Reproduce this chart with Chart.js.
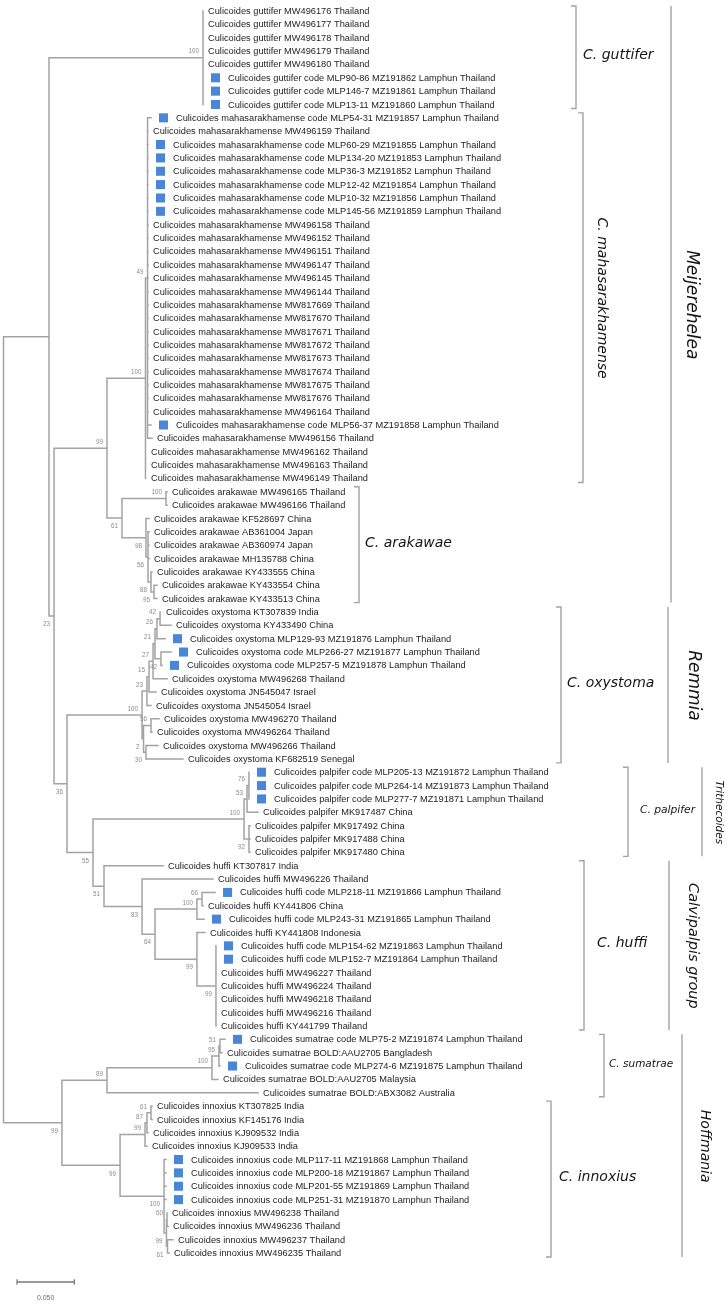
<!DOCTYPE html>
<html>
<head>
<meta charset="utf-8">
<script src="https://cdn.jsdelivr.net/npm/chart.js@4.4.1/dist/chart.umd.min.js"></script>
<style>
  html, body { margin: 0; padding: 0; background: #fff; }
  canvas { display: block; }
</style>
</head>
<body>
<canvas id="tree" width="727" height="1304"></canvas>
<script>
// leaf labels, top to bottom
const taxa = [
  'Culicoides guttifer MW496176 Thailand',
  'Culicoides guttifer MW496177 Thailand',
  'Culicoides guttifer MW496178 Thailand',
  'Culicoides guttifer MW496179 Thailand',
  'Culicoides guttifer MW496180 Thailand',
  'Culicoides guttifer code MLP90-86 MZ191862 Lamphun Thailand',
  'Culicoides guttifer code MLP146-7 MZ191861 Lamphun Thailand',
  'Culicoides guttifer code MLP13-11 MZ191860 Lamphun Thailand',
  'Culicoides mahasarakhamense code MLP54-31 MZ191857 Lamphun Thailand',
  'Culicoides mahasarakhamense MW496159 Thailand',
  'Culicoides mahasarakhamense code MLP60-29 MZ191855 Lamphun Thailand',
  'Culicoides mahasarakhamense code MLP134-20 MZ191853 Lamphun Thailand',
  'Culicoides mahasarakhamense code MLP36-3 MZ191852 Lamphun Thailand',
  'Culicoides mahasarakhamense code MLP12-42 MZ191854 Lamphun Thailand',
  'Culicoides mahasarakhamense code MLP10-32 MZ191856 Lamphun Thailand',
  'Culicoides mahasarakhamense code MLP145-56 MZ191859 Lamphun Thailand',
  'Culicoides mahasarakhamense MW496158 Thailand',
  'Culicoides mahasarakhamense MW496152 Thailand',
  'Culicoides mahasarakhamense MW496151 Thailand',
  'Culicoides mahasarakhamense MW496147 Thailand',
  'Culicoides mahasarakhamense MW496145 Thailand',
  'Culicoides mahasarakhamense MW496144 Thailand',
  'Culicoides mahasarakhamense MW817669 Thailand',
  'Culicoides mahasarakhamense MW817670 Thailand',
  'Culicoides mahasarakhamense MW817671 Thailand',
  'Culicoides mahasarakhamense MW817672 Thailand',
  'Culicoides mahasarakhamense MW817673 Thailand',
  'Culicoides mahasarakhamense MW817674 Thailand',
  'Culicoides mahasarakhamense MW817675 Thailand',
  'Culicoides mahasarakhamense MW817676 Thailand',
  'Culicoides mahasarakhamense MW496164 Thailand',
  'Culicoides mahasarakhamense code MLP56-37 MZ191858 Lamphun Thailand',
  'Culicoides mahasarakhamense MW496156 Thailand',
  'Culicoides mahasarakhamense MW496162 Thailand',
  'Culicoides mahasarakhamense MW496163 Thailand',
  'Culicoides mahasarakhamense MW496149 Thailand',
  'Culicoides arakawae MW496165 Thailand',
  'Culicoides arakawae MW496166 Thailand',
  'Culicoides arakawae KF528697 China',
  'Culicoides arakawae AB361004 Japan',
  'Culicoides arakawae AB360974 Japan',
  'Culicoides arakawae MH135788 China',
  'Culicoides arakawae KY433555 China',
  'Culicoides arakawae KY433554 China',
  'Culicoides arakawae KY433513 China',
  'Culicoides oxystoma KT307839 India',
  'Culicoides oxystoma KY433490 China',
  'Culicoides oxystoma MLP129-93 MZ191876 Lamphun Thailand',
  'Culicoides oxystoma code MLP266-27 MZ191877 Lamphun Thailand',
  'Culicoides oxystoma code MLP257-5 MZ191878 Lamphun Thailand',
  'Culicoides oxystoma MW496268 Thailand',
  'Culicoides oxystoma JN545047 Israel',
  'Culicoides oxystoma JN545054 Israel',
  'Culicoides oxystoma MW496270 Thailand',
  'Culicoides oxystoma MW496264 Thailand',
  'Culicoides oxystoma MW496266 Thailand',
  'Culicoides oxystoma KF682519 Senegal',
  'Culicoides palpifer code MLP205-13 MZ191872 Lamphun Thailand',
  'Culicoides palpifer code MLP264-14 MZ191873 Lamphun Thailand',
  'Culicoides palpifer code MLP277-7 MZ191871 Lamphun Thailand',
  'Culicoides palpifer MK917487 China',
  'Culicoides palpifer MK917492 China',
  'Culicoides palpifer MK917488 China',
  'Culicoides palpifer MK917480 China',
  'Culicoides huffi KT307817 India',
  'Culicoides huffi MW496226 Thailand',
  'Culicoides huffi code MLP218-11 MZ191866 Lamphun Thailand',
  'Culicoides huffi KY441806 China',
  'Culicoides huffi code MLP243-31 MZ191865 Lamphun Thailand',
  'Culicoides huffi KY441808 Indonesia',
  'Culicoides huffi code MLP154-62 MZ191863 Lamphun Thailand',
  'Culicoides huffi code MLP152-7 MZ191864 Lamphun Thailand',
  'Culicoides huffi MW496227 Thailand',
  'Culicoides huffi MW496224 Thailand',
  'Culicoides huffi MW496218 Thailand',
  'Culicoides huffi MW496216 Thailand',
  'Culicoides huffi KY441799 Thailand',
  'Culicoides sumatrae code MLP75-2 MZ191874 Lamphun Thailand',
  'Culicoides sumatrae BOLD:AAU2705 Bangladesh',
  'Culicoides sumatrae code MLP274-6 MZ191875 Lamphun Thailand',
  'Culicoides sumatrae BOLD:AAU2705 Malaysia',
  'Culicoides sumatrae BOLD:ABX3082 Australia',
  'Culicoides innoxius KT307825 India',
  'Culicoides innoxius KF145176 India',
  'Culicoides innoxius KJ909532 India',
  'Culicoides innoxius KJ909533 India',
  'Culicoides innoxius code MLP117-11 MZ191868 Lamphun Thailand',
  'Culicoides innoxius code MLP200-18 MZ191867 Lamphun Thailand',
  'Culicoides innoxius code MLP201-55 MZ191869 Lamphun Thailand',
  'Culicoides innoxius code MLP251-31 MZ191870 Lamphun Thailand',
  'Culicoides innoxius MW496238 Thailand',
  'Culicoides innoxius MW496236 Thailand',
  'Culicoides innoxius MW496237 Thailand',
  'Culicoides innoxius MW496235 Thailand'
];

// distance from root to each tip (substitutions per site), same order as taxa
const tipDepth = [
  0.1741, 0.1741, 0.1741, 0.1741, 0.1741, 0.1741, 0.1741, 0.1741,
  0.1287, 0.1261, 0.1261, 0.1261, 0.1261, 0.1261, 0.1261, 0.1261,
  0.1261, 0.1261, 0.1261, 0.1261, 0.1261, 0.1261, 0.1261, 0.1261,
  0.1261, 0.1261, 0.1261, 0.1261, 0.1261, 0.1261, 0.1261, 0.1287,
  0.1296, 0.1243, 0.1243, 0.1243,
  0.1427, 0.1427, 0.1270, 0.1270, 0.1270, 0.1270, 0.1296, 0.1339, 0.1339,
  0.1374, 0.1462, 0.1409, 0.1462, 0.1383, 0.1427, 0.1331, 0.1287,
  0.1357, 0.1296, 0.1348, 0.1566,
  0.2142, 0.2142, 0.2142, 0.2221, 0.2151, 0.2151, 0.2151,
  0.1392, 0.1828, 0.1846, 0.1741, 0.1750, 0.1758, 0.1854, 0.1854,
  0.1854, 0.1854, 0.1854, 0.1854, 0.1854,
  0.1933, 0.1907, 0.1889, 0.1872, 0.2221,
  0.1296, 0.1296, 0.1261, 0.1252, 0.1418, 0.1418, 0.1418, 0.1418,
  0.1427, 0.1436, 0.1479, 0.1445
];

// sequences from this study (blue squares)
const newSamples = [5, 6, 7, 8, 10, 11, 12, 13, 14, 15, 31, 47, 48, 49, 57, 58, 59,
  66, 68, 70, 71, 77, 79, 86, 87, 88, 89];

// internal nodes: id, depth from root, bootstrap, children (leaf index or node id)
const nodes = [
  ['root', 0.0000, '', ['A', 'H']],
  ['A', 0.0397, '', ['gut', 'X']],
  ['gut', 0.1741, '100', [0, 1, 2, 3, 4, 5, 6, 7]],
  ['X', 0.0441, '23', ['M', 'n36']],
  ['M', 0.0903, '99', ['mah', 'ara']],
  ['mah', 0.1239, '100', ['m49', 33, 34, 35]],
  ['m49', 0.1257, '49', [8, 9, 10, 11, 12, 13, 14, 15, 16, 17, 18, 19, 20, 21, 22, 23,
    24, 25, 26, 27, 28, 29, 30, 31, 32]],
  ['ara', 0.1034, '61', ['a100', 'a98']],
  ['a100', 0.1418, '100', [36, 37]],
  ['a98', 0.1243, '98', [38, 'a56']],
  ['a56', 0.1261, '56', [39, 40, 41, 'a88']],
  ['a88', 0.1287, '88', [42, 'a95']],
  ['a95', 0.1313, '95', [43, 44]],
  ['n36', 0.0554, '36', ['oxy', 'n55']],
  ['oxy', 0.1209, '100', ['o23', 'o2']],
  ['o23', 0.1252, '23', ['o15', 52]],
  ['o15', 0.1270, '15', ['o27', 51]],
  ['o27', 0.1305, '27', ['o21', 50]],
  ['o21', 0.1322, '21', ['o26', 'o42b']],
  ['o26', 0.1339, '26', ['o42a', 47]],
  ['o42a', 0.1366, '42', [45, 46]],
  ['o42b', 0.1374, '42', [48, 49]],
  ['o2', 0.1222, '2', ['o56', 'o30']],
  ['o56', 0.1287, '56', [53, 54]],
  ['o30', 0.1243, '30', [55, 56]],
  ['n55', 0.0781, '55', ['pal', 'n51']],
  ['pal', 0.2099, '100', ['p53', 'p92']],
  ['p53', 0.2125, '53', ['p76', 60]],
  ['p76', 0.2142, '76', [57, 58, 59]],
  ['p92', 0.2142, '92', [61, 62, 63]],
  ['n51', 0.0877, '51', [64, 'h83']],
  ['h83', 0.1209, '83', [65, 'h64']],
  ['h64', 0.1322, '64', ['h100', 'h99a']],
  ['h100', 0.1688, '100', ['h66', 68]],
  ['h66', 0.1732, '66', [66, 67]],
  ['h99a', 0.1688, '99', [69, 'h99b']],
  ['h99b', 0.1854, '99', [70, 71, 72, 73, 74, 75, 76]],
  ['H', 0.0510, '99', ['sum', 'inn']],
  ['sum', 0.0903, '89', ['s100', 81]],
  ['s100', 0.1819, '100', ['s95', 80]],
  ['s95', 0.1880, '95', ['s51', 79]],
  ['s51', 0.1889, '51', [77, 78]],
  ['inn', 0.1017, '99', ['i99', 'i100']],
  ['i99', 0.1235, '99', ['i87', 85]],
  ['i87', 0.1252, '87', ['i61', 84]],
  ['i61', 0.1287, '61', [82, 83]],
  ['i100', 0.1401, '100', [86, 87, 88, 89, 'i99b']],
  ['i99b', 0.1422, '99', ['i60', 'i61b']],
  ['i60', 0.1427, '60', [90, 91]],
  ['i61b', 0.1431, '61', [92, 93]]
];

// species clades (first leaf, last leaf)
const clades = ['C. guttifer', 'C. mahasarakhamense', 'C. arakawae', 'C. oxystoma',
  'C. palpifer', 'C. huffi', 'C. sumatrae', 'C. innoxius'];
const cladeRange = [[0, 7], [8, 35], [36, 44], [45, 56], [57, 63], [64, 76], [77, 81], [82, 93]];

// subgenera / groups
const groups = ['Meijerehelea', 'Remmia', 'Trithecoides', 'Calvipalpis group', 'Hoffmania'];
const groupRange = [[0, 44], [45, 56], [57, 63], [64, 76], [77, 93]];

const scaleBar = 0.05;
const scaleLabel = '0.050';

// ---- layout (pixels) ----
const PX = scaleBar / 57.3;     // distance units per pixel
const ROW = 13.355;             // pixels per leaf row
const TOP = 11;                 // pixel y of first leaf
const cladeLineX = [576, 583, 359, 561, 628, 584, 604, 551];
const cladeTextX = [583, 602, 365, 567, 640, 597, 609, 559];
const cladeFont = [14, 14, 14, 14, 10.7, 14, 10.5, 14];
const cladeRotated = [false, true, false, false, false, false, false, false];
const groupLineX = [671, 668, 702, 669, 682];
const groupTextX = [691, 693, 719, 693, 705];
const groupFont = [17, 17, 10.5, 14.5, 14];
const LINE = '#a3a3a3';

// ---- build tree geometry ----
const byId = {};
const parentOf = {};
nodes.forEach(([id, depth, support, kids]) => {
  byId[id] = {id, depth, support, kids};
  kids.forEach(k => { if (typeof k === 'string') parentOf[k] = id; });
});

function rowOf(k) {
  if (typeof k === 'number') return k;
  const n = byId[k];
  if (n.row === undefined) n.row = (rowOf(n.kids[0]) + rowOf(n.kids[n.kids.length - 1])) / 2;
  return n.row;
}
function depthOf(k) {
  return typeof k === 'number' ? tipDepth[k] : byId[k].depth;
}

const branchPts = [];
const gap = () => ({x: null, y: null});
nodes.forEach(([id, d, s, kids]) => {
  branchPts.push({x: d, y: rowOf(kids[0])}, {x: d, y: rowOf(kids[kids.length - 1])}, gap());
  kids.forEach(k => {
    const dk = depthOf(k);
    if (dk > d + 1e-6) branchPts.push({x: d, y: rowOf(k)}, {x: dk, y: rowOf(k)}, gap());
  });
});

// scale bar with end ticks
const sbRow = (1282 - TOP) / ROW;
const sbX0 = 13.5 * PX;
const scalePts = [
  {x: sbX0, y: sbRow}, {x: sbX0 + scaleBar, y: sbRow}, gap(),
  {x: sbX0, y: sbRow - 0.2}, {x: sbX0, y: sbRow + 0.2}, gap(),
  {x: sbX0 + scaleBar, y: sbRow - 0.2}, {x: sbX0 + scaleBar, y: sbRow + 0.2}
];

const squarePts = newSamples.map(i => ({x: tipDepth[i] + 12.5 * PX, y: i}));

// ---- text, brackets, bootstrap values ----
const treeText = {
  id: 'treeText',
  afterDatasetsDraw(chart) {
    const ctx = chart.ctx;
    const xs = chart.scales.x, ys = chart.scales.y;
    const marked = new Set(newSamples);
    ctx.save();

    // leaf names
    ctx.fillStyle = '#1e1e1e';
    ctx.font = '9.25px "Liberation Sans", Arial, sans-serif';
    ctx.textAlign = 'left';
    ctx.textBaseline = 'middle';
    taxa.forEach((name, i) => {
      const px = xs.getPixelForValue(tipDepth[i]) + (marked.has(i) ? 25 : 5);
      ctx.fillText(name, px, ys.getPixelForValue(i) + 0.5);
    });

    // bootstrap values
    ctx.fillStyle = '#8c8c8c';
    ctx.font = '6.3px "Liberation Sans", Arial, sans-serif';
    ctx.textAlign = 'right';
    nodes.forEach(([id, d, s]) => {
      if (!s) return;
      const p = parentOf[id];
      const upper = p && byId[p].kids[0] === id;
      const px = xs.getPixelForValue(d) - 4;
      const py = ys.getPixelForValue(rowOf(id)) + (upper ? -6 : 8.5);
      ctx.fillText(s, px, py);
    });

    // clade brackets
    ctx.strokeStyle = LINE;
    ctx.lineWidth = 1.4;
    clades.forEach((name, c) => {
      const [a, b] = cladeRange[c];
      const y1 = ys.getPixelForValue(a) - 5, y2 = ys.getPixelForValue(b) + 4;
      const x = cladeLineX[c];
      ctx.beginPath();
      ctx.moveTo(x - 5, y1); ctx.lineTo(x, y1); ctx.lineTo(x, y2); ctx.lineTo(x - 5, y2);
      ctx.stroke();
    });
    // group lines
    groups.forEach((name, g) => {
      const [a, b] = groupRange[g];
      const x = groupLineX[g];
      ctx.beginPath();
      ctx.moveTo(x, ys.getPixelForValue(a) - 5);
      ctx.lineTo(x, ys.getPixelForValue(b) + 4);
      ctx.stroke();
    });

    // clade names
    ctx.fillStyle = '#141414';
    clades.forEach((name, c) => {
      const [a, b] = cladeRange[c];
      const yc = ys.getPixelForValue((a + b) / 2);
      ctx.font = 'italic ' + cladeFont[c] + 'px "DejaVu Sans", Verdana, sans-serif';
      if (cladeRotated[c]) {
        ctx.save();
        ctx.translate(cladeTextX[c], yc);
        ctx.rotate(Math.PI / 2);
        ctx.textAlign = 'center';
        ctx.textBaseline = 'middle';
        ctx.fillText(name, 0, 0);
        ctx.restore();
      } else {
        ctx.textAlign = 'left';
        ctx.textBaseline = 'middle';
        ctx.fillText(name, cladeTextX[c], yc - 2);
      }
    });
    // group names
    groups.forEach((name, g) => {
      const [a, b] = groupRange[g];
      const yc = ys.getPixelForValue((a + b) / 2);
      ctx.font = 'italic ' + groupFont[g] + 'px "DejaVu Sans", Verdana, sans-serif';
      ctx.save();
      ctx.translate(groupTextX[g], yc);
      ctx.rotate(Math.PI / 2);
      ctx.textAlign = 'center';
      ctx.textBaseline = 'middle';
      ctx.fillText(name, 0, 0);
      ctx.restore();
    });

    // scale label
    ctx.fillStyle = '#707070';
    ctx.font = '7px "Liberation Sans", Arial, sans-serif';
    ctx.textAlign = 'center';
    ctx.fillText(scaleLabel, xs.getPixelForValue(sbX0 + scaleBar / 2), ys.getPixelForValue(sbRow) + 16);

    ctx.restore();
  }
};

new Chart(document.getElementById('tree').getContext('2d'), {
  type: 'scatter',
  data: {
    datasets: [
      {
        type: 'line',
        label: 'branches',
        data: branchPts,
        borderColor: LINE,
        borderWidth: 1.5,
        borderCapStyle: 'square',
        pointRadius: 0,
        spanGaps: false,
        tension: 0
      },
      {
        type: 'line',
        label: 'scale',
        data: scalePts,
        borderColor: '#7a7a7a',
        borderWidth: 1.3,
        pointRadius: 0,
        spanGaps: false,
        tension: 0
      },
      {
        label: 'this study',
        data: squarePts,
        pointStyle: 'rect',
        pointRadius: 6.4,
        backgroundColor: '#4a86d8',
        borderWidth: 0
      }
    ]
  },
  options: {
    responsive: false,
    devicePixelRatio: 1,
    animation: false,
    events: [],
    layout: {padding: 0, autoPadding: false},
    plugins: {legend: {display: false}, tooltip: {enabled: false}},
    scales: {
      x: {type: 'linear', display: false, min: -3.5 * PX, max: (727 - 3.5) * PX},
      y: {type: 'linear', display: false, reverse: true, min: -TOP / ROW, max: (1304 - TOP) / ROW}
    }
  },
  plugins: [treeText]
});
</script>
</body>
</html>
